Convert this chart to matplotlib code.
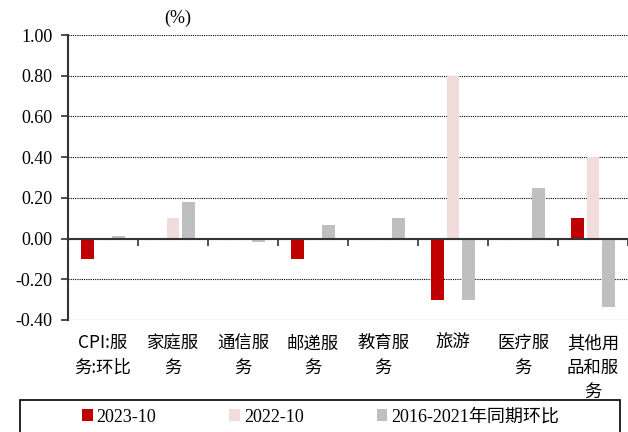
import numpy as np
import matplotlib
matplotlib.use("Agg")
from matplotlib import pyplot as plt
from matplotlib import transforms as mtrans
from matplotlib.patches import Rectangle

# CPI services month-on-month, Oct 2023 vs Oct 2022 vs 2016-2021 average
categories = ["CPI:服\n务:环比", "家庭服\n务", "通信服\n务", "邮递服\n务",
              "教育服\n务", "旅游", "医疗服\n务", "其他用\n品和服\n务"]
oct2023 = [-0.10, 0.00, 0.00, -0.10, 0.00, -0.30, 0.00, 0.10]
oct2022 = [0.00, 0.10, 0.00, 0.00, 0.00, 0.80, 0.00, 0.40]
avg1621 = [0.015, 0.18, -0.015, 0.065, 0.10, -0.30, 0.25, -0.335]
seriesNames = ["2023-10", "2022-10", "2016-2021年同期环比"]
colors = ["#C00000", "#F2DCDB", "#BFBFBF"]
yticks = [1.00, 0.80, 0.60, 0.40, 0.20, 0.00, -0.20, -0.40]

plt.rcParams["font.serif"] = ["Liberation Serif", "DejaVu Serif"]
serif = ["serif", "Noto Sans CJK SC"]
cjk = ["Noto Sans CJK SC", "DejaVu Sans"]

fig = plt.figure(figsize=(6.28, 4.32), dpi=100)
ax = fig.add_axes([68/628, 1-320/432, 560/628, 285/432])

x = np.arange(len(categories))
barW = 0.18
offs = 0.22
bars = []
for i, (vals, col) in enumerate(zip([oct2023, oct2022, avg1621], colors)):
    b = ax.bar(x + (i-1)*offs, vals, width=barW, color=col, zorder=3)
    bars.append(b)

ax.set_xlim(-0.5, len(categories)-0.5)
ax.set_ylim(-0.4, 1.0)
ax.set_yticks(yticks)
ax.set_yticklabels(["%.2f" % v for v in yticks], family=serif, fontsize=13)
ax.grid(axis="y", linestyle=(0, (1, 1)), color="black", linewidth=0.8, zorder=0)

ax.spines["top"].set_visible(False)
ax.spines["right"].set_visible(False)
ax.spines["left"].set_linewidth(1.5)
ax.spines["left"].set_color("#333333")
ax.spines["bottom"].set_position(("data", 0))
ax.spines["bottom"].set_linewidth(1.5)
ax.spines["bottom"].set_color("#333333")
ax.spines["bottom"].set_zorder(4)
ax.set_xticks(x + 0.5)
ax.set_xticklabels([])
ax.tick_params(axis="x", direction="out", length=5, width=1.2, color="#333333")
ax.tick_params(axis="y", direction="out", length=5, width=1.2, color="#333333", pad=6)

trans = mtrans.blended_transform_factory(ax.transData, ax.transAxes)
for xi, lab in zip(x, categories):
    ax.text(xi, -0.05, lab, transform=trans, ha="center", va="top",
            family=cjk, fontsize=12.5, linespacing=1.45)

fig.text(178/628, 1-18/432, "(%)", family=serif, fontsize=13, ha="center", va="center")

# legend with its own frame box
fig.patches.append(Rectangle((20/628, -0.05), 600/628, 0.05+1-400/432,
                             transform=fig.transFigure, fill=False,
                             edgecolor="black", linewidth=1.2))
fig.legend([b[0] for b in bars], seriesNames, loc="center left",
           bbox_to_anchor=(82/628, 1-417/432), ncol=3, frameon=False,
           prop={"family": serif, "size": 13}, handlelength=0.6, handleheight=0.6,
           handletextpad=0.2, columnspacing=4.05, borderpad=0, borderaxespad=0)

fig.savefig("out.png", dpi=100, facecolor="white")
